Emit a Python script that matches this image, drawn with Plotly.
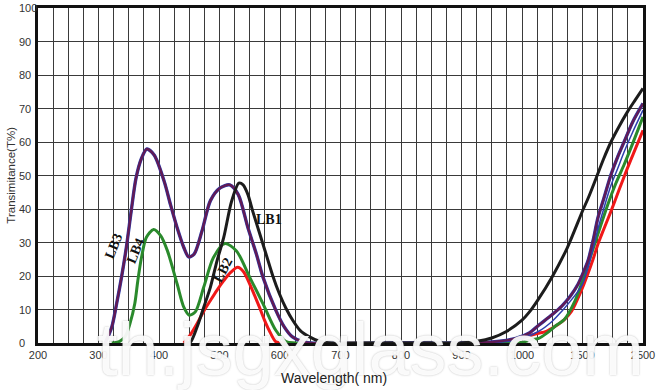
import plotly.graph_objects as go

# ---------------- data (wavelength nm, transmittance %) ----------------
lb1_wl = [445, 452, 463, 474, 485, 496, 507, 520, 532, 539, 547, 555, 566, 577, 588, 599, 610, 621, 634, 648, 664, 680, 700,
          800, 900, 925, 950, 975, 1000, 1060, 1125, 1250, 1375, 1500, 1600, 1725, 1850, 1970, 2100, 2243, 2370, 2500]
lb1_t = [0, 0.3, 4.8, 10.7, 16.7, 24.6, 31.5, 42.3, 47.7, 47.2, 44.3, 39.3, 32.9, 26.5, 20.1, 14.7, 10.3, 6.8, 3.6, 1.9, 0.6, 0.1, 0,
         0, 0, 0.5, 1.5, 3.5, 6.8, 9.2, 12.5, 19.8, 28.5, 39.4, 43.5, 49.2, 55, 60, 64.5, 69, 72.5, 76]

lb3_wl = [311, 322, 330, 338, 346, 354, 362, 371, 380, 392, 409, 419, 430, 441, 449, 458, 471, 485, 501, 517, 531, 547, 561,
          572, 593, 607, 620, 637, 650, 800, 900, 950, 990, 1060, 1138, 1250, 1329, 1400, 1464, 1500, 1592, 1680, 1755,
          1850, 1970, 2080, 2187, 2330, 2500]
lb3_t = [0, 4.8, 11.8, 19.6, 28.5, 39.3, 49.2, 55.1, 57.9, 56.1, 48, 41.3, 34.4, 28.5, 25.7, 26.5, 33.4, 42.5, 46.3, 47.2,
         44.3, 34.4, 26.5, 19.6, 9.8, 4.8, 1.9, 0.4, 0, 0, 0, 0.3, 1.4, 3, 5.3, 8.5, 11, 14, 17.6, 20.5, 24.6, 31, 37.4,
         43, 50.2, 55.5, 60, 66, 71.5]

# thin blue companion line of LB3 (visible in the infrared part)
lb3b_wl = [311, 322, 330, 338, 346, 354, 362, 371, 380, 392, 409, 419, 430, 441, 449, 458, 471, 485, 501, 517, 531, 547, 561,
           572, 593, 607, 620, 637, 650, 800, 900, 990, 1138, 1250, 1329, 1400, 1464, 1500, 1592, 1680, 1755, 1850, 1970,
           2080, 2187, 2330, 2500]
lb3b_t = [0, 4.8, 11.8, 19.6, 28.5, 39.3, 49.2, 55.1, 57.9, 56.1, 48, 41.3, 34.4, 28.5, 25.7, 26.5, 33.4, 42.5, 46.3, 47.2,
          44.3, 34.4, 26.5, 19.6, 9.8, 4.8, 1.9, 0.4, 0, 0, 0, 0.8, 3.5, 6.5, 9.5, 12.5, 15.5, 17.5, 22.5, 28.5, 34,
          40, 47, 52, 57, 63, 69.5]

lb4_wl = [322, 335, 344, 352, 360, 365, 371, 379, 391, 403, 414, 430, 441, 450, 460, 474, 490, 509, 528, 550, 572, 593, 610,
          625, 800, 900, 1000, 1060, 1138, 1200, 1274, 1350, 1437, 1491, 1560, 1645, 1700, 1800, 1917, 2050, 2187, 2330, 2500]
lb4_t = [0, 0.5, 1.9, 5.8, 11.8, 18.6, 25.5, 31.5, 33.9, 32, 27.5, 17.6, 10.7, 8.3, 9.3, 16.7, 25.5, 29.7, 27.5, 19.6, 11.7,
         3.8, 0.4, 0, 0, 0, 0.2, 0.8, 1.4, 2.8, 5, 7, 12.5, 17.6, 21.9, 26.5, 29.5, 35, 41.3, 47.6, 53.2, 59.6, 67.5]

lb2_wl = [441, 452, 463, 474, 485, 496, 507, 518, 530, 540, 550, 558, 566, 574, 582, 593, 605, 800, 900, 957, 1000, 1060,
          1138, 1200, 1274, 1350, 1410, 1491, 1592, 1680, 1755, 1850, 1970, 2100, 2243, 2370, 2500]
lb2_t = [0, 2.5, 5.8, 9.5, 12.7, 15.8, 18.6, 21, 22.6, 21.2, 17.6, 14.2, 10.7, 7, 3.8, 0.4, 0, 0, 0, 0, 1.4, 2.2,
         2.9, 3.5, 5, 7, 9.5, 15.7, 20.8, 25.3, 29.5, 33.9, 39.3, 45.5, 52.2, 57.8, 63.5]

x_tick_labels = ["200", "300", "400", "500", "600", "700", "800", "900", "1000", "1500", "2500"]
y_tick_values = [0, 10, 20, 30, 40, 50, 60, 70, 80, 90, 100]

# curve labels: (text, wavelength, transmittance, angle)
curve_labels = [("LB1", 582, 37.0, 0), ("LB2", 505, 21.7, -62), ("LB3", 326, 29.0, -68), ("LB4", 362, 27.5, -67)]


# ---------------- piecewise wavelength scale of the chart ----------------
def wl_pos(w):
    if w <= 1000:
        return (w - 200) / 25.0
    if w <= 1500:
        return 32 + (w - 1000) / 125.0
    return 36 + (w - 1500) / 250.0


def pos(lst):
    return [wl_pos(v) for v in lst]


grid_pos = list(range(0, 41))
label_pos = {round(wl_pos(int(t)), 6): t for t in x_tick_labels}
grid_text = [label_pos.get(round(float(p), 6), "") for p in grid_pos]

fig = go.Figure()


def add(x, y, color, width):
    fig.add_trace(go.Scatter(x=pos(x), y=y, mode="lines",
                             line=dict(color=color, width=width, shape="spline", smoothing=0.8),
                             hoverinfo="skip", showlegend=False))


add(lb2_wl, lb2_t, "#f01818", 3)
add(lb4_wl, lb4_t, "#2a8a2c", 3)
add(lb3b_wl, lb3b_t, "#2d3fae", 1.5)
add(lb3_wl, lb3_t, "#2d3fae", 3.4)
add(lb3_wl, lb3_t, "#621a55", 2.4)
add(lb1_wl, lb1_t, "#1c1c1c", 3)

annotations = []
# watermark (drawn first so the other texts lie on top of it)
annotations.append(dict(x=0.55, y=-0.148, xref="paper", yref="paper", text="th.jsgxglass.com", showarrow=False,
                        xanchor="center", yanchor="bottom",
                        font=dict(family="Liberation Sans", size=74,
                                  color="rgba(255,255,255,0.92)", shadow="0px 0px 2px rgba(90,90,90,0.45)")))

for text, w, t, ang in curve_labels:
    annotations.append(dict(x=wl_pos(w), y=t, xref="x", yref="y", text=text, showarrow=False, textangle=ang,
                            font=dict(family="Liberation Serif", size=14, color="#111", weight="bold")))

for v in y_tick_values:
    annotations.append(dict(x=-0.034, y=v, xref="paper", yref="y", text=str(v), showarrow=False, xanchor="left",
                            yanchor="middle", font=dict(family="Liberation Sans", size=11, color="#333")))

annotations.append(dict(x=-0.046, y=0.5, xref="paper", yref="paper", text="Transimitance(T%)", showarrow=False,
                        xanchor="center", yanchor="middle", textangle=-90,
                        font=dict(family="Liberation Sans", size=11.5, color="#333")))
annotations.append(dict(x=0.489, y=-0.104, xref="paper", yref="paper", text="Wavelength( nm)", showarrow=False,
                        xanchor="center", yanchor="middle",
                        font=dict(family="Liberation Sans", size=14, color="#222")))

fig.update_layout(
    width=660, height=390,
    margin=dict(l=38, r=8, t=5, b=47),
    paper_bgcolor="white", plot_bgcolor="white",
    annotations=annotations,
    xaxis=dict(range=[0, 40], tickmode="array", tickvals=grid_pos, ticktext=grid_text, showgrid=True,
               gridcolor="#3a3a3a", gridwidth=1.2, showline=True, linecolor="#111", linewidth=3, mirror=True,
               zeroline=False, ticks="", ticklabeloverflow="allow",
               tickfont=dict(family="Liberation Sans", size=11, color="#333")),
    yaxis=dict(range=[0, 100], tickmode="array", tickvals=y_tick_values, showticklabels=False, showgrid=True,
               gridcolor="#3a3a3a", gridwidth=1.2, showline=True, linecolor="#111", linewidth=3, mirror=True,
               zeroline=False, ticks=""),
)

fig.write_html("out.html", config={"displayModeBar": False},
               post_script="document.body.style.margin='0px';document.body.style.overflow='hidden';")
